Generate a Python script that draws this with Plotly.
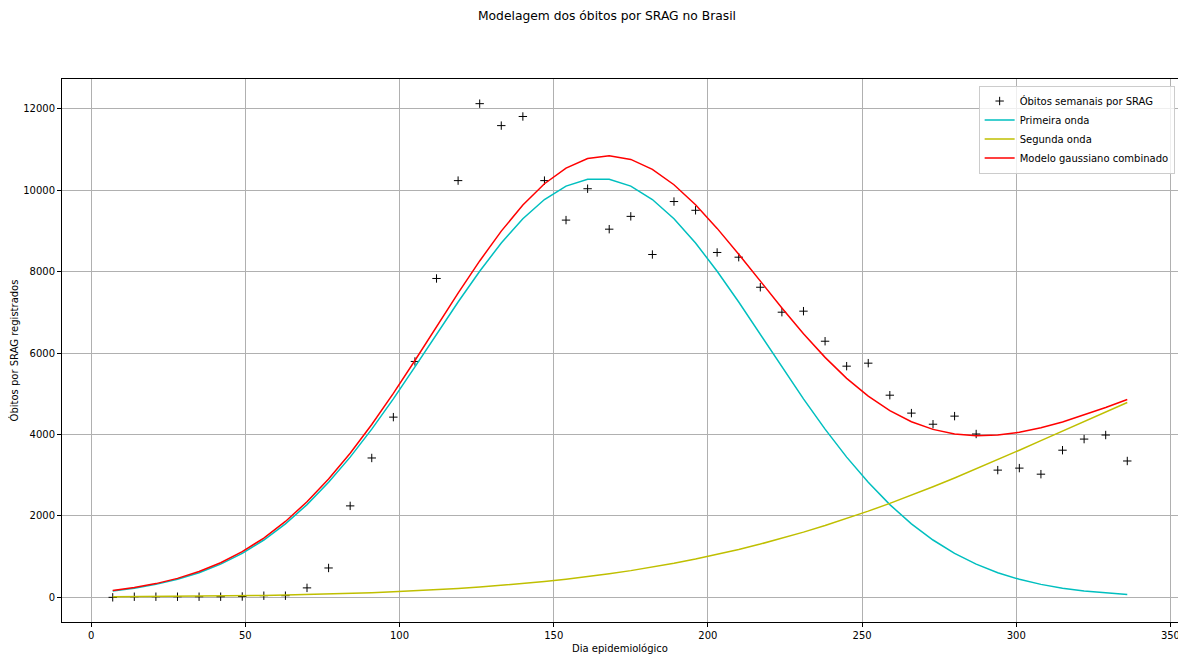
import plotly.graph_objects as go

days = [7, 14, 21, 28, 35, 42, 49, 56, 63, 70, 77, 84, 91, 98, 105, 112, 119, 126,
        133, 140, 147, 154, 161, 168, 175, 182, 189, 196, 203, 210, 217, 224, 231,
        238, 245, 252, 259, 266, 273, 280, 287, 294, 301, 308, 315, 322, 329, 336]

obitos = [0, 15, 15, 15, 15, 15, 20, 40, 40, 232, 721, 2246, 3423, 4426, 5794, 7832,
          10236, 12126, 11587, 11811, 10236, 9266, 10037, 9043, 9358, 8421, 9722, 9507,
          8471, 8355, 7617, 7004, 7029, 6291, 5678, 5752, 4965, 4525, 4252, 4451, 4012,
          3125, 3174, 3025, 3614, 3887, 3987, 3349]

primeira = [156, 224, 318, 442, 605, 816, 1081, 1408, 1806, 2277, 2824, 3444, 4131,
            4875, 5659, 6460, 7254, 8011, 8703, 9298, 9772, 10101, 10269, 10269, 10101,
            9772, 9298, 8703, 8011, 7254, 6460, 5659, 4875, 4131, 3444, 2824, 2277, 1806,
            1408, 1081, 816, 605, 442, 318, 224, 156, 107, 72]

segunda = [12, 15, 19, 23, 28, 33, 40, 48, 58, 69, 82, 97, 115, 135, 159, 186, 217, 252,
           292, 337, 388, 444, 508, 578, 656, 742, 837, 940, 1052, 1175, 1308, 1449, 1601,
           1763, 1935, 2117, 2308, 2508, 2717, 2932, 3154, 3382, 3614, 3849, 4085, 4322,
           4556, 4787]

combinado = [168, 239, 337, 465, 633, 849, 1121, 1456, 1864, 2346, 2906, 3541, 4246,
             5010, 5818, 6646, 7471, 8263, 8995, 9635, 10160, 10545, 10777, 10847, 10757,
             10514, 10135, 9643, 9063, 8429, 7768, 7108, 6476, 5894, 5379, 4941, 4585,
             4314, 4125, 4013, 3970, 3987, 4056, 4167, 4309, 4478, 4663, 4859]

x_ticks = [0, 50, 100, 150, 200, 250, 300, 350]
y_ticks = [0, 2000, 4000, 6000, 8000, 10000, 12000]

FONT = "DejaVu Sans"
# the page body has an 8px margin; the figure is sized so the plot lands where the reference has it
W, H = 1178, 653

fig = go.Figure()
fig.add_trace(go.Scatter(
    x=days, y=obitos, mode="markers", name="Óbitos semanais por SRAG",
    marker=dict(symbol="cross-thin", size=6, color="black",
                line=dict(color="black", width=1)),
))
fig.add_trace(go.Scatter(x=days, y=primeira, mode="lines", name="Primeira onda",
                         line=dict(color="#00bfbf", width=1.5)))
fig.add_trace(go.Scatter(x=days, y=segunda, mode="lines", name="Segunda onda",
                         line=dict(color="#bfbf00", width=1.5)))
fig.add_trace(go.Scatter(x=days, y=combinado, mode="lines", name="Modelo gaussiano combinado",
                         line=dict(color="#ff0000", width=1.5)))

axis_common = dict(
    showgrid=True, gridcolor="#b0b0b0", gridwidth=0.8,
    zeroline=False, showline=True, linecolor="black", linewidth=1, mirror=True,
    ticks="outside", ticklen=4, tickcolor="black", tickwidth=1,
    tickfont=dict(family=FONT, size=10, color="black"),
    automargin=False, tickformat="d",
)

fig.update_layout(
    width=W, height=H,
    paper_bgcolor="white", plot_bgcolor="white",
    margin=dict(l=54, r=8, t=71, b=39, autoexpand=False),
    font=dict(family=FONT, size=10, color="black"),
    title=dict(text="Modelagem dos óbitos por SRAG no Brasil",
               x=599 / W, xref="container", xanchor="center",
               y=1 - 3 / H, yref="container", yanchor="top",
               font=dict(family=FONT, size=12.3, color="black")),
    xaxis=dict(range=[-9.45, 352.45], tickvals=x_ticks,
               title=dict(text="Dia epidemiológico", standoff=4,
                          font=dict(family=FONT, size=10)),
               **axis_common),
    yaxis=dict(range=[-606, 12732], tickvals=y_ticks,
               title=dict(text="Óbitos por SRAG registrados", standoff=4,
                          font=dict(family=FONT, size=10)),
               **axis_common),
    legend=dict(x=0.997, y=0.988, xanchor="right", yanchor="top",
                bgcolor="rgba(255,255,255,0.8)", bordercolor="#cccccc", borderwidth=1,
                font=dict(family=FONT, size=10), itemwidth=30, tracegroupgap=0),
    showlegend=True,
)

fig.write_html("out.html")
